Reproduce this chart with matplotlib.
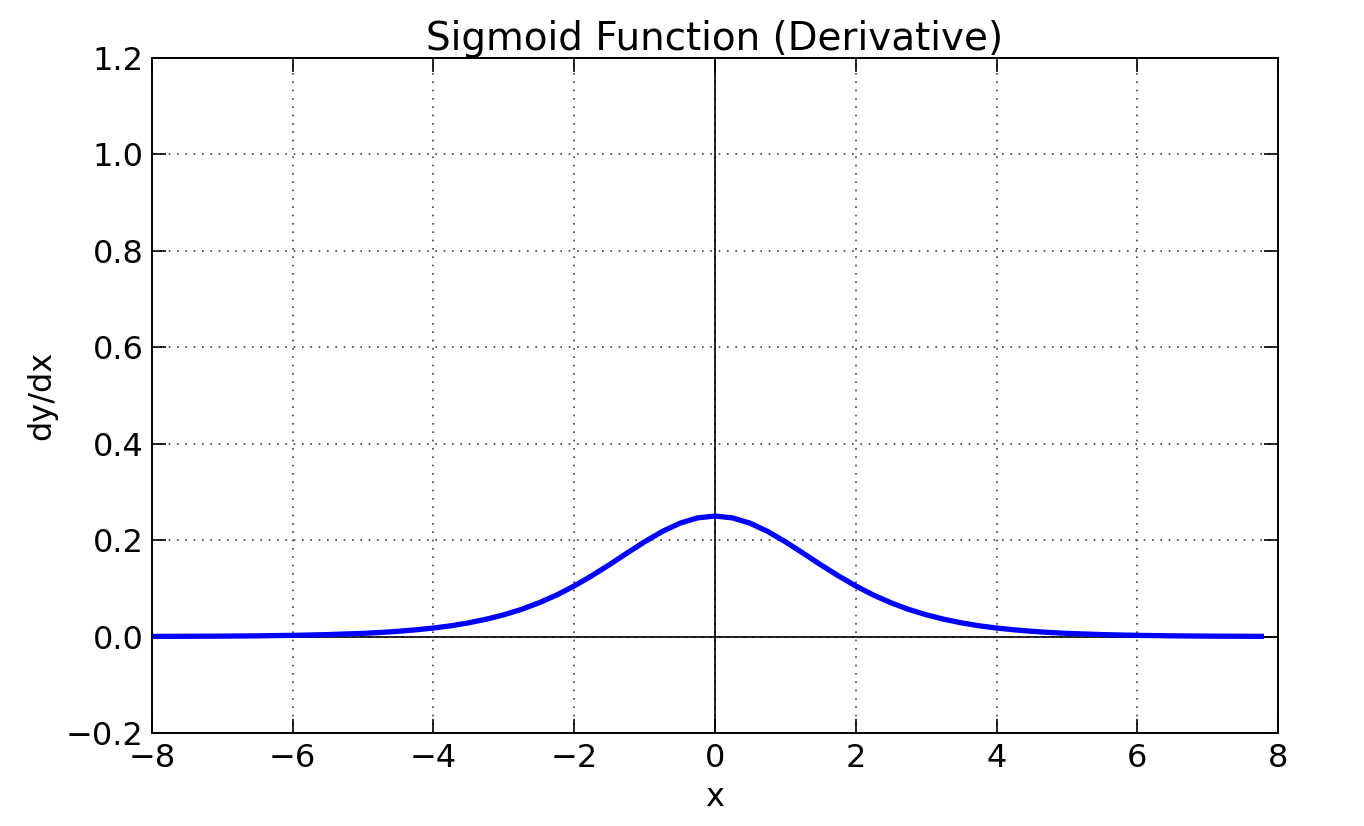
import matplotlib
matplotlib.use('Agg')
import matplotlib.pyplot as plt

# values
x_vals = [-8.0, -7.5, -7.0, -6.5, -6.0, -5.5, -5.0, -4.75, -4.5, -4.25, -4.0, -3.75, -3.5,
          -3.25, -3.0, -2.75, -2.5, -2.25, -2.0, -1.75, -1.5, -1.25, -1.0, -0.75, -0.5, -0.25,
          0.0, 0.25, 0.5, 0.75, 1.0, 1.25, 1.5, 1.75, 2.0, 2.25, 2.5, 2.75, 3.0, 3.25,
          3.5, 3.75, 4.0, 4.25, 4.5, 4.75, 5.0, 5.5, 6.0, 6.5, 7.0, 7.5, 7.8]
dydx = [0.0003, 0.0006, 0.0009, 0.0015, 0.0025, 0.0041, 0.0066, 0.0085, 0.0109, 0.0140, 0.0177,
        0.0224, 0.0285, 0.0360, 0.0452, 0.0564, 0.0701, 0.0861, 0.1050, 0.1262, 0.1491, 0.1731,
        0.1966, 0.2179, 0.2350, 0.2461, 0.25, 0.2461, 0.2350, 0.2179, 0.1966, 0.1731, 0.1491,
        0.1262, 0.1050, 0.0861, 0.0701, 0.0564, 0.0452, 0.0360, 0.0285, 0.0224, 0.0177, 0.0140,
        0.0109, 0.0085, 0.0066, 0.0041, 0.0025, 0.0015, 0.0009, 0.0006, 0.0004]

plt.rcParams['font.family'] = 'DejaVu Sans'
plt.rcParams['font.size'] = 23

fig = plt.figure(figsize=(13.64, 8.26), dpi=100)
ax = fig.add_axes([0.1114, 0.1126, 0.8256, 0.8172])

ax.axhline(0, color='black', lw=1.2)
ax.axvline(0, color='black', lw=1.2)
ax.plot(x_vals, dydx, color='#0000ff', lw=3.8, solid_capstyle='butt', solid_joinstyle='round')

ax.set_xlim(-8, 8)
ax.set_ylim(-0.2, 1.2)
ax.set_xticks(range(-8, 9, 2))
ax.set_yticks([-0.2, 0.0, 0.2, 0.4, 0.6, 0.8, 1.0, 1.2])
ax.grid(True, color='0.25', lw=1.2, dashes=(1, 4))
ax.tick_params(direction='in', length=10, width=1.2, top=True, right=True)
ax.tick_params(axis='x', pad=7)
ax.tick_params(axis='y', pad=6)
for s in ax.spines.values():
    s.set_linewidth(1.4)

ax.set_title("Sigmoid Function (Derivative)", fontsize=28, pad=6)
ax.set_xlabel("x", fontsize=23, labelpad=6)
ax.set_ylabel("dy/dx", fontsize=23, labelpad=6)

fig.savefig('out.png', dpi=100)
